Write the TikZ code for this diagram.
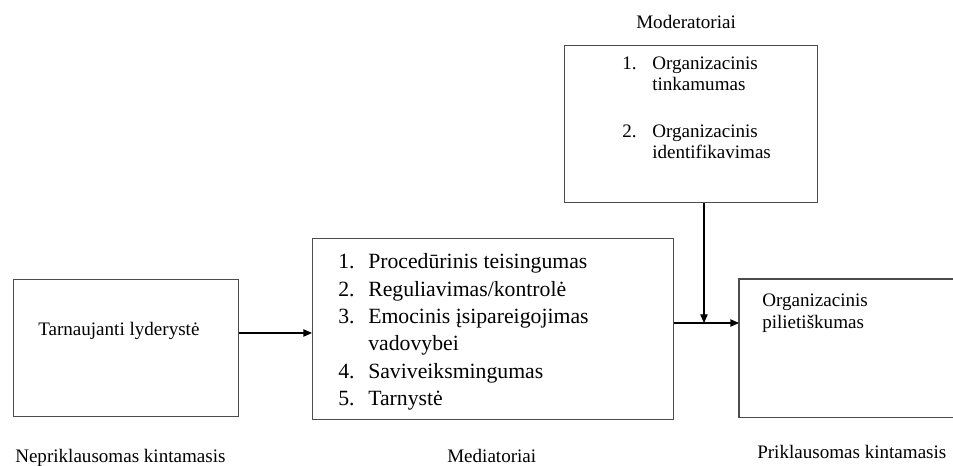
\documentclass[tikz,border=0pt]{standalone}
\usepackage{fontspec}
\setmainfont{Liberation Serif}
\usetikzlibrary{arrows.meta}

\begin{document}
\begin{tikzpicture}[x=0.75pt, y=-0.75pt,
  box/.style={draw=black!70, line width=0.9pt, inner sep=0pt, anchor=north west},
  txt/.style={font=\fontsize{14.3}{16.5}\selectfont, inner sep=0pt, anchor=base west, align=left},
  arr/.style={-{Triangle[length=6.5pt,width=5.5pt]}, line width=1pt}]
  \useasboundingbox (0,0) rectangle (953,466);
  % boxes (px: left/top corner, size)
  \node[box, minimum width=168.75pt, minimum height=102.75pt] (lbox) at (13,279) {};
  \node[box, minimum width=270.75pt, minimum height=135.75pt] (mbox) at (312,238) {};
  \node[box, minimum width=189.75pt, minimum height=117.75pt] (mod) at (564,45) {};
  % right box runs off the page: no right side
  \node[box, draw=none, minimum width=160.5pt, minimum height=102.75pt] (rbox) at (739,279) {};
  \draw[black!70, line width=0.9pt] (rbox.north east) -- (rbox.north west)
    -- (rbox.south west) -- (rbox.south east);
  % texts
  \node[txt] (ltxt) at (38,336) {Tarnaujanti lyderystė};
  \node[txt, font=\fontsize{16.3}{20.5}\selectfont] (mtxt) at (338,269)
    {\begin{tabular}[t]{@{}p{22.5pt}@{}l@{}}
      1. & Procedūrinis teisingumas\\
      2. & Reguliavimas/kontrolė\\
      3. & Emocinis įsipareigojimas\\
         & vadovybei\\
      4. & Saviveiksmingumas\\
      5. & Tarnystė
    \end{tabular}};
  \node[txt, font=\fontsize{14.3}{15.75}\selectfont] (modtxt) at (622,70)
    {\begin{tabular}[t]{@{}p{22.5pt}@{}l@{}}
      1. & Organizacinis\\
         & tinkamumas\\[19.5pt]
      2. & Organizacinis\\
         & identifikavimas
    \end{tabular}};
  \node[txt] (rtxt) at (762,329) {Organizacinis\\pilietiškumas};
  % captions
  \node[txt] (modlab) at (636,29) {Moderatoriai};
  \node[txt] (llab) at (15,462) {Nepriklausomas kintamasis};
  \node[txt] (mlab) at (447,462) {Mediatoriai};
  \node[txt] (rlab) at (757,459) {Priklausomas kintamasis};
  % connectors
  \coordinate (in1) at (275,333);
  \coordinate (join) at (704,323);
  \draw[arr] (lbox.east |- in1) -- (mbox.west |- in1);
  \draw[arr] (mbox.east |- join) -- (rbox.west |- join);
  \draw[arr] (mod.south -| join) -- (join);
\end{tikzpicture}
\end{document}
